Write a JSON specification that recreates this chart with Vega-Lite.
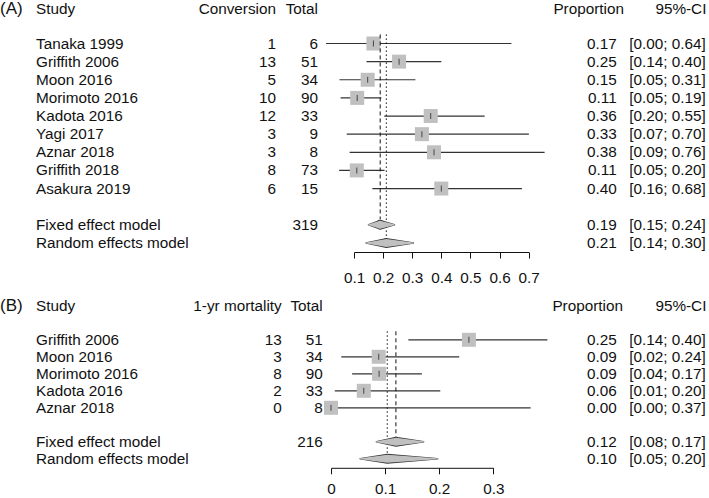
{
  "$schema": "https://vega.github.io/schema/vega-lite/v6.json",
  "padding": 0,
  "background": "white",
  "spacing": 10,
  "config": {
    "view": {"stroke": null},
    "text": {"font": "Liberation Sans", "fontSize": 15.3, "color": "#111"},
    "axis": {"labelFont": "Liberation Sans", "labelOverlap": false, "labelSeparation": 0, "labelFlush": false},
    "axisX": {"labelOverlap": false},
    "axisQuantitative": {"labelOverlap": false}
  },
  "datasets": {
    "A": [
      {"label": "Tanaka 1999", "events": 1, "total": 6, "est": 0.1667, "lower": 0.004, "upper": 0.641, "ci": "[0.00; 0.64]", "row": 2, "kind": "study"},
      {"label": "Griffith 2006", "events": 13, "total": 51, "est": 0.2549, "lower": 0.143, "upper": 0.400, "ci": "[0.14; 0.40]", "row": 3, "kind": "study"},
      {"label": "Moon 2016", "events": 5, "total": 34, "est": 0.147, "lower": 0.050, "upper": 0.311, "ci": "[0.05; 0.31]", "row": 4, "kind": "study"},
      {"label": "Morimoto 2016", "events": 10, "total": 90, "est": 0.111, "lower": 0.054, "upper": 0.194, "ci": "[0.05; 0.19]", "row": 5, "kind": "study"},
      {"label": "Kadota 2016", "events": 12, "total": 33, "est": 0.3636, "lower": 0.204, "upper": 0.549, "ci": "[0.20; 0.55]", "row": 6, "kind": "study"},
      {"label": "Yagi 2017", "events": 3, "total": 9, "est": 0.3333, "lower": 0.075, "upper": 0.701, "ci": "[0.07; 0.70]", "row": 7, "kind": "study"},
      {"label": "Aznar 2018", "events": 3, "total": 8, "est": 0.375, "lower": 0.085, "upper": 0.755, "ci": "[0.09; 0.76]", "row": 8, "kind": "study"},
      {"label": "Griffith 2018", "events": 8, "total": 73, "est": 0.1096, "lower": 0.049, "upper": 0.205, "ci": "[0.05; 0.20]", "row": 9, "kind": "study"},
      {"label": "Asakura 2019", "events": 6, "total": 15, "est": 0.4, "lower": 0.163, "upper": 0.677, "ci": "[0.16; 0.68]", "row": 10, "kind": "study"},
      {"label": "Fixed effect model", "total": 319, "est": 0.19, "lower": 0.150, "upper": 0.239, "ci": "[0.15; 0.24]", "row": 12, "kind": "fixed"},
      {"label": "Random effects model", "est": 0.211, "lower": 0.142, "upper": 0.304, "ci": "[0.14; 0.30]", "row": 13, "kind": "random"}
    ],
    "B": [
      {"label": "Griffith 2006", "events": 13, "total": 51, "est": 0.2549, "lower": 0.143, "upper": 0.400, "ci": "[0.14; 0.40]", "row": 2, "kind": "study"},
      {"label": "Moon 2016", "events": 3, "total": 34, "est": 0.0882, "lower": 0.019, "upper": 0.237, "ci": "[0.02; 0.24]", "row": 3, "kind": "study"},
      {"label": "Morimoto 2016", "events": 8, "total": 90, "est": 0.0889, "lower": 0.039, "upper": 0.168, "ci": "[0.04; 0.17]", "row": 4, "kind": "study"},
      {"label": "Kadota 2016", "events": 2, "total": 33, "est": 0.0606, "lower": 0.007, "upper": 0.202, "ci": "[0.01; 0.20]", "row": 5, "kind": "study"},
      {"label": "Aznar 2018", "events": 0, "total": 8, "est": 0.0, "lower": 0.0, "upper": 0.369, "ci": "[0.00; 0.37]", "row": 6, "kind": "study"},
      {"label": "Fixed effect model", "total": 216, "est": 0.12, "lower": 0.084, "upper": 0.171, "ci": "[0.08; 0.17]", "row": 8, "kind": "fixed"},
      {"label": "Random effects model", "est": 0.104, "lower": 0.054, "upper": 0.197, "ci": "[0.05; 0.20]", "row": 9, "kind": "random"}
    ]
  },
  "vconcat": [
    {
      "bounds": "flush",
      "spacing": 0,
      "hconcat": [
        {
          "width": 353.7, "height": 252,
          "data": {"name": "A"},
          "layer": [
            {"data": {"values": [{"t": "(A)"}]}, "mark": {"type": "text", "align": "left", "fontSize": 17, "dy": 2},
             "encoding": {"text": {"field": "t"}, "x": {"value": 0}, "y": {"datum": 0, "type": "quantitative", "scale": {"domain": [-0.4, 13.5], "reverse": true, "nice": false, "zero": false}, "axis": null}}},
            {"data": {"values": [{"t": "Study"}]}, "mark": {"type": "text", "align": "left", "dy": 2},
             "encoding": {"text": {"field": "t"}, "x": {"value": 36}, "y": {"datum": 0, "type": "quantitative"}}},
            {"data": {"values": [{"t": "Conversion"}]}, "mark": {"type": "text", "align": "right", "dy": 2},
             "encoding": {"text": {"field": "t"}, "x": {"value": 276}, "y": {"datum": 0, "type": "quantitative"}}},
            {"data": {"values": [{"t": "Total"}]}, "mark": {"type": "text", "align": "right", "dy": 2},
             "encoding": {"text": {"field": "t"}, "x": {"value": 318}, "y": {"datum": 0, "type": "quantitative"}}},
            {"mark": {"type": "text", "align": "left"},
             "encoding": {"text": {"field": "label"}, "x": {"value": 36}, "y": {"field": "row", "type": "quantitative"}}},
            {"transform": [{"filter": "isValid(datum.events)"}], "mark": {"type": "text", "align": "right"},
             "encoding": {"text": {"field": "events", "type": "nominal"}, "x": {"value": 276}, "y": {"field": "row", "type": "quantitative"}}},
            {"transform": [{"filter": "isValid(datum.total)"}], "mark": {"type": "text", "align": "right"},
             "encoding": {"text": {"field": "total", "type": "nominal"}, "x": {"value": 318}, "y": {"field": "row", "type": "quantitative"}}}
          ]
        },
        {
          "width": 174.6, "height": 252,
          "data": {"name": "A"},
          "encoding": {
            "y": {"field": "row", "type": "quantitative", "scale": {"domain": [-0.4, 13.5], "reverse": true, "nice": false, "zero": false}, "axis": null}
          },
          "layer": [
            {"transform": [{"filter": "datum.kind == 'study'"}],
             "mark": {"type": "rule", "color": "#333", "strokeWidth": 1.2},
             "encoding": {
               "x": {"field": "lower", "type": "quantitative", "scale": {"domain": [0.1, 0.7], "nice": false, "zero": false},
                     "axis": {"values": [0.1, 0.2, 0.3, 0.4, 0.5, 0.6, 0.7], "format": ".1f", "title": null, "grid": false, "tickSize": 6, "labelPadding": 12, "domainColor": "#111", "tickColor": "#111", "labelColor": "#111", "labelFontSize": 15.3, "labelFlush": false, "labelOverlap": false, "labelSeparation": 0, "domainWidth": 1, "tickWidth": 1}},
               "x2": {"field": "upper"}}},
            {"transform": [{"filter": "datum.kind == 'study'"}],
             "mark": {"type": "point", "shape": "square", "filled": true, "size": 196, "color": "#c0c0c0", "opacity": 1},
             "encoding": {"x": {"field": "est", "type": "quantitative",
                     "axis": {"values": [0.1, 0.2, 0.3, 0.4, 0.5, 0.6, 0.7], "format": ".1f", "title": null, "grid": false, "tickSize": 6, "labelPadding": 12, "domainColor": "#111", "tickColor": "#111", "labelColor": "#111", "labelFontSize": 15.3, "labelFlush": false, "labelOverlap": false, "labelSeparation": 0, "domainWidth": 1, "tickWidth": 1}}}},
            {"transform": [{"filter": "datum.kind == 'study'"}],
             "mark": {"type": "tick", "orient": "vertical", "size": 6, "thickness": 1, "color": "#111"},
             "encoding": {"x": {"field": "est", "type": "quantitative",
                     "axis": {"values": [0.1, 0.2, 0.3, 0.4, 0.5, 0.6, 0.7], "format": ".1f", "title": null, "grid": false, "tickSize": 6, "labelPadding": 12, "domainColor": "#111", "tickColor": "#111", "labelColor": "#111", "labelFontSize": 15.3, "labelFlush": false, "labelOverlap": false, "labelSeparation": 0, "domainWidth": 1, "tickWidth": 1}}}},
            {"transform": [{"filter": "datum.kind == 'fixed'"}],
             "mark": {"type": "rule", "color": "#111", "strokeWidth": 1, "strokeDash": [4, 3]},
             "encoding": {"x": {"field": "est", "type": "quantitative",
                     "axis": {"values": [0.1, 0.2, 0.3, 0.4, 0.5, 0.6, 0.7], "format": ".1f", "title": null, "grid": false, "tickSize": 6, "labelPadding": 12, "domainColor": "#111", "tickColor": "#111", "labelColor": "#111", "labelFontSize": 15.3, "labelFlush": false, "labelOverlap": false, "labelSeparation": 0, "domainWidth": 1, "tickWidth": 1}},
               "y": {"datum": 1.5, "type": "quantitative"}, "y2": {"datum": 11.7}}},
            {"transform": [{"filter": "datum.kind == 'random'"}],
             "mark": {"type": "rule", "color": "#111", "strokeWidth": 1, "strokeDash": [1.5, 2.5]},
             "encoding": {"x": {"field": "est", "type": "quantitative",
                     "axis": {"values": [0.1, 0.2, 0.3, 0.4, 0.5, 0.6, 0.7], "format": ".1f", "title": null, "grid": false, "tickSize": 6, "labelPadding": 12, "domainColor": "#111", "tickColor": "#111", "labelColor": "#111", "labelFontSize": 15.3, "labelFlush": false, "labelOverlap": false, "labelSeparation": 0, "domainWidth": 1, "tickWidth": 1}},
               "y": {"datum": 1.5, "type": "quantitative"}, "y2": {"datum": 12.7}}},
            {"transform": [{"filter": "datum.kind != 'study'"}, {"fold": ["lower", "est", "upper"], "as": ["key", "value"]}],
             "mark": {"type": "trail", "color": "#333"},
             "encoding": {"x": {"field": "value", "type": "quantitative",
                     "axis": {"values": [0.1, 0.2, 0.3, 0.4, 0.5, 0.6, 0.7], "format": ".1f", "title": null, "grid": false, "tickSize": 6, "labelPadding": 12, "domainColor": "#111", "tickColor": "#111", "labelColor": "#111", "labelFontSize": 15.3, "labelFlush": false, "labelOverlap": false, "labelSeparation": 0, "domainWidth": 1, "tickWidth": 1}},
               "detail": {"field": "kind"},
               "size": {"field": "key", "type": "ordinal", "scale": {"type": "ordinal", "domain": ["lower", "est", "upper"], "range": [1.6, 10, 1.6]}, "legend": null}}},
            {"transform": [{"filter": "datum.kind != 'study'"}, {"fold": ["lower", "est", "upper"], "as": ["key", "value"]}],
             "mark": {"type": "trail", "color": "#c0c0c0"},
             "encoding": {"x": {"field": "value", "type": "quantitative",
                     "axis": {"values": [0.1, 0.2, 0.3, 0.4, 0.5, 0.6, 0.7], "format": ".1f", "title": null, "grid": false, "tickSize": 6, "labelPadding": 12, "domainColor": "#111", "tickColor": "#111", "labelColor": "#111", "labelFontSize": 15.3, "labelFlush": false, "labelOverlap": false, "labelSeparation": 0, "domainWidth": 1, "tickWidth": 1}},
               "detail": {"field": "kind"},
               "size": {"field": "key", "type": "ordinal", "scale": {"type": "ordinal", "domain": ["lower", "est", "upper"], "range": [0, 8, 0]}, "legend": null}}}
          ],
          "resolve": {"scale": {"size": "independent"}}
        },
        {
          "width": 180.7, "height": 252,
          "data": {"name": "A"},
          "layer": [
            {"data": {"values": [{"t": "Proportion"}]}, "mark": {"type": "text", "align": "right", "dy": 2},
             "encoding": {"text": {"field": "t"}, "x": {"value": 95}, "y": {"datum": 0, "type": "quantitative", "scale": {"domain": [-0.4, 13.5], "reverse": true, "nice": false, "zero": false}, "axis": null}}},
            {"data": {"values": [{"t": "95%-CI"}]}, "mark": {"type": "text", "align": "right", "dy": 2},
             "encoding": {"text": {"field": "t"}, "x": {"value": 177.4}, "y": {"datum": 0, "type": "quantitative"}}},
            {"mark": {"type": "text", "align": "right"},
             "encoding": {"text": {"field": "est", "type": "quantitative", "format": ".2f"}, "x": {"value": 87.7}, "y": {"field": "row", "type": "quantitative"}}},
            {"mark": {"type": "text", "align": "right"},
             "encoding": {"text": {"field": "ci"}, "x": {"value": 176.7}, "y": {"field": "row", "type": "quantitative"}}}
          ]
        }
      ]
    },
    {
      "bounds": "flush",
      "spacing": 0,
      "hconcat": [
        {
          "width": 331, "height": 168.8,
          "data": {"name": "B"},
          "layer": [
            {"data": {"values": [{"t": "(B)"}]}, "mark": {"type": "text", "align": "left", "fontSize": 17},
             "encoding": {"text": {"field": "t"}, "x": {"value": 0}, "y": {"datum": 0, "type": "quantitative", "scale": {"domain": [-0.4, 9.53], "reverse": true, "nice": false, "zero": false}, "axis": null}}},
            {"data": {"values": [{"t": "Study"}]}, "mark": {"type": "text", "align": "left"},
             "encoding": {"text": {"field": "t"}, "x": {"value": 36}, "y": {"datum": 0, "type": "quantitative"}}},
            {"data": {"values": [{"t": "1-yr mortality"}]}, "mark": {"type": "text", "align": "right"},
             "encoding": {"text": {"field": "t"}, "x": {"value": 281.7}, "y": {"datum": 0, "type": "quantitative"}}},
            {"data": {"values": [{"t": "Total"}]}, "mark": {"type": "text", "align": "right"},
             "encoding": {"text": {"field": "t"}, "x": {"value": 322.7}, "y": {"datum": 0, "type": "quantitative"}}},
            {"mark": {"type": "text", "align": "left"},
             "encoding": {"text": {"field": "label"}, "x": {"value": 36}, "y": {"field": "row", "type": "quantitative"}}},
            {"transform": [{"filter": "isValid(datum.events)"}], "mark": {"type": "text", "align": "right"},
             "encoding": {"text": {"field": "events", "type": "nominal"}, "x": {"value": 281.7}, "y": {"field": "row", "type": "quantitative"}}},
            {"transform": [{"filter": "isValid(datum.total)"}], "mark": {"type": "text", "align": "right"},
             "encoding": {"text": {"field": "total", "type": "nominal"}, "x": {"value": 322.7}, "y": {"field": "row", "type": "quantitative"}}}
          ]
        },
        {
          "width": 162.3, "height": 168.8,
          "data": {"name": "B"},
          "encoding": {
            "y": {"field": "row", "type": "quantitative", "scale": {"domain": [-0.4, 9.53], "reverse": true, "nice": false, "zero": false}, "axis": null}
          },
          "layer": [
            {"transform": [{"filter": "datum.kind == 'study'"}],
             "mark": {"type": "rule", "color": "#333", "strokeWidth": 1.2},
             "encoding": {
               "x": {"field": "lower", "type": "quantitative", "scale": {"domain": [0, 0.3], "nice": false, "zero": false},
                     "axis": {"values": [0, 0.1, 0.2, 0.3], "format": "~g", "title": null, "grid": false, "tickSize": 6, "labelPadding": 8, "domainColor": "#111", "tickColor": "#111", "labelColor": "#111", "labelFontSize": 15.3, "labelFlush": false, "labelOverlap": false, "domainWidth": 1, "tickWidth": 1}},
               "x2": {"field": "upper"}}},
            {"transform": [{"filter": "datum.kind == 'study'"}],
             "mark": {"type": "point", "shape": "square", "filled": true, "size": 196, "color": "#c0c0c0", "opacity": 1},
             "encoding": {"x": {"field": "est", "type": "quantitative"}}},
            {"transform": [{"filter": "datum.kind == 'study'"}],
             "mark": {"type": "tick", "orient": "vertical", "size": 6, "thickness": 1, "color": "#111"},
             "encoding": {"x": {"field": "est", "type": "quantitative"}}},
            {"transform": [{"filter": "datum.kind == 'fixed'"}],
             "mark": {"type": "rule", "color": "#111", "strokeWidth": 1, "strokeDash": [4, 3]},
             "encoding": {"x": {"field": "est", "type": "quantitative"}, "y": {"datum": 1.5, "type": "quantitative"}, "y2": {"datum": 7.7}}},
            {"transform": [{"filter": "datum.kind == 'random'"}],
             "mark": {"type": "rule", "color": "#111", "strokeWidth": 1, "strokeDash": [1.5, 2.5]},
             "encoding": {"x": {"field": "est", "type": "quantitative"}, "y": {"datum": 1.5, "type": "quantitative"}, "y2": {"datum": 8.7}}},
            {"transform": [{"filter": "datum.kind != 'study'"}, {"fold": ["lower", "est", "upper"], "as": ["key", "value"]}],
             "mark": {"type": "trail", "color": "#333"},
             "encoding": {"x": {"field": "value", "type": "quantitative"}, "detail": {"field": "kind"},
               "size": {"field": "key", "type": "ordinal", "scale": {"type": "ordinal", "domain": ["lower", "est", "upper"], "range": [1.6, 10, 1.6]}, "legend": null}}},
            {"transform": [{"filter": "datum.kind != 'study'"}, {"fold": ["lower", "est", "upper"], "as": ["key", "value"]}],
             "mark": {"type": "trail", "color": "#c0c0c0"},
             "encoding": {"x": {"field": "value", "type": "quantitative"}, "detail": {"field": "kind"},
               "size": {"field": "key", "type": "ordinal", "scale": {"type": "ordinal", "domain": ["lower", "est", "upper"], "range": [0, 8, 0]}, "legend": null}}}
          ],
          "resolve": {"scale": {"size": "independent"}}
        },
        {
          "width": 215.7, "height": 168.8,
          "data": {"name": "B"},
          "layer": [
            {"data": {"values": [{"t": "Proportion"}]}, "mark": {"type": "text", "align": "right"},
             "encoding": {"text": {"field": "t"}, "x": {"value": 129}, "y": {"datum": 0, "type": "quantitative", "scale": {"domain": [-0.4, 9.53], "reverse": true, "nice": false, "zero": false}, "axis": null}}},
            {"data": {"values": [{"t": "95%-CI"}]}, "mark": {"type": "text", "align": "right"},
             "encoding": {"text": {"field": "t"}, "x": {"value": 212.4}, "y": {"datum": 0, "type": "quantitative"}}},
            {"mark": {"type": "text", "align": "right"},
             "encoding": {"text": {"field": "est", "type": "quantitative", "format": ".2f"}, "x": {"value": 122.7}, "y": {"field": "row", "type": "quantitative"}}},
            {"mark": {"type": "text", "align": "right"},
             "encoding": {"text": {"field": "ci"}, "x": {"value": 211.7}, "y": {"field": "row", "type": "quantitative"}}}
          ]
        }
      ]
    }
  ]
}
